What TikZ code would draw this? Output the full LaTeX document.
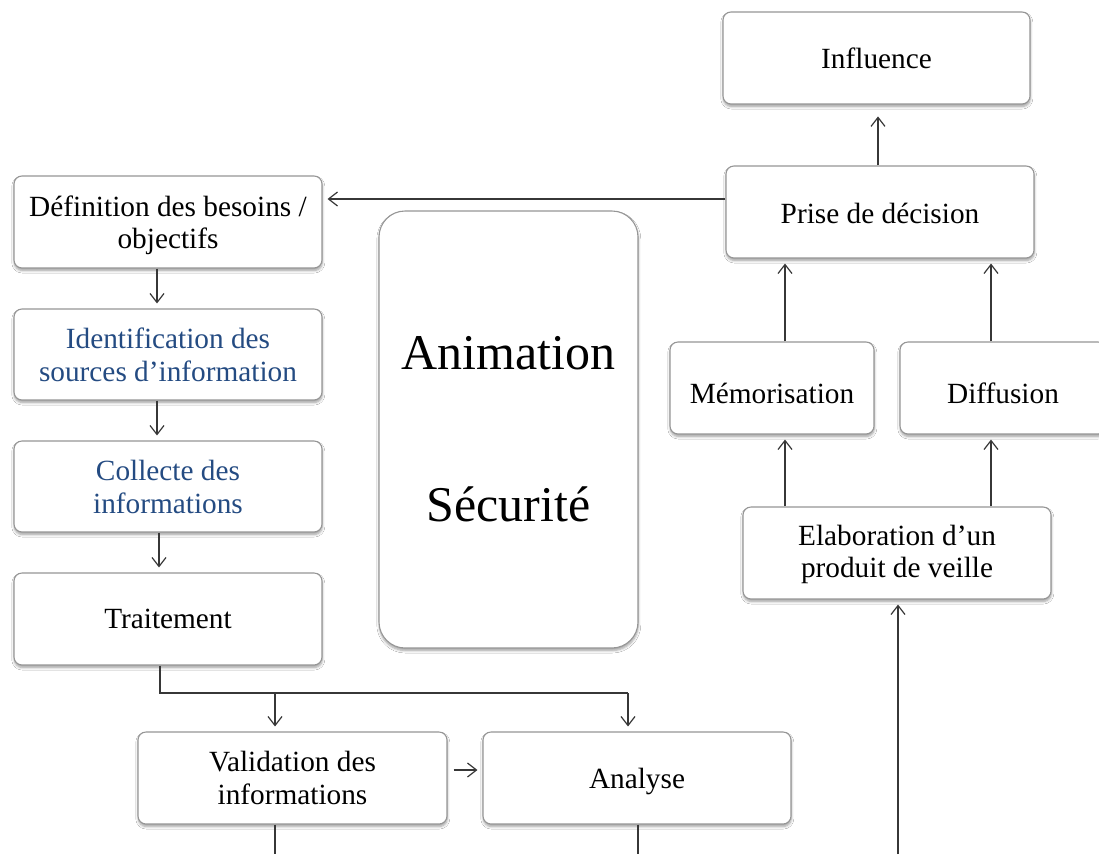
\documentclass[tikz,border=0pt]{standalone}
\usepackage{fontspec}
\setmainfont{Liberation Serif}
\usetikzlibrary{arrows.meta,calc,shadows.blur}
\definecolor{boxline}{RGB}{150,150,150}
\definecolor{wire}{RGB}{55,55,55}
\definecolor{steelblue}{RGB}{36,75,130}
% lower a label inside its box while keeping the box's centring
\newcommand{\lowered}[2]{\raisebox{#1}[\height][\depth]{#2}}
% two centred lines, lowered a little inside their box
\newcommand{\twolines}[3]{\lowered{#1}{\begin{tabular}{@{}c@{}}#2\\[-1pt]#3\end{tabular}}}
\begin{document}
\begin{tikzpicture}[x=1pt,y=-1pt,
  box/.style={draw=boxline, line width=1.1pt, fill=white, rounded corners=8pt,
    minimum width=308pt, minimum height=92pt, align=center, inner sep=2pt,
    font=\fontsize{29.3}{33}\selectfont,
    blur shadow={shadow xshift=0.3pt, shadow yshift=-2.5pt, shadow blur radius=2.5pt,
      shadow blur steps=6, shadow opacity=38}},
  bluetext/.style={text=steelblue},
  arr/.style={draw=wire, line width=1.2pt, -{Straight Barb[length=9pt,width=14pt,line width=1.2pt]}, shorten >=5pt},
  wireline/.style={draw=wire, line width=1.2pt}]
\useasboundingbox (0,0) rectangle (1099,854);
\fill[white] (0,0) rectangle (1099,854);

% left column: needs -> sources -> collection -> processing
\node[box] (defn) at (168,222) {\twolines{-4pt}{Définition des besoins /}{objectifs}};
\node[box, bluetext, minimum height=91pt] (ident) at (168,354.5) {Identification des\\sources d’information};
\node[box, bluetext, minimum height=91pt] (coll) at (168,486.5) {Collecte des\\informations};
\node[box] (trait) at (168,619) {Traitement};

% central panel
\node[box, minimum width=259pt, minimum height=437pt, rounded corners=26pt,
  font=\fontsize{50}{152}\selectfont] (anim) at (508.5,429.5) {Animation\\Sécurité};

% bottom row
\node[box, minimum width=309pt] (valid) at (292.5,778) {Validation des\\informations};
\node[box] (analyse) at (637,778) {\lowered{-3pt}{Analyse}};

% right column
\node[box, minimum width=307pt] (infl) at (876.5,58) {Influence};
\node[box] (prise) at (880,212) {\lowered{-1pt}{Prise de décision}};
\node[box, minimum width=204pt] (memo) at (772,388) {\lowered{-5pt}{Mémorisation}};
\node[box, minimum width=206pt] (diff) at (1003,388) {\lowered{-5pt}{Diffusion}};
\node[box] (elab) at (897,553) {\twolines{-2pt}{Elaboration d’un}{produit de veille}};

% guide coordinates for the connectors
\coordinate (pd) at ($(prise.west)+(0,-13)$);
\coordinate (cL) at (785,0);
\coordinate (cR) at (991,0);
\coordinate (bot) at (898,854);
\coordinate (tx) at (160,693);
\coordinate (vx) at (275,693);
\coordinate (ax) at (628,693);
\coordinate (vb) at (275,854);
\coordinate (ab) at (638,854);
\coordinate (dx) at (157,0);
\coordinate (cx) at (159,0);

% left column connectors
\draw[arr] (pd) -- (defn.east |- pd);
\draw[arr] (dx |- defn.south) -- (dx |- ident.north);
\draw[arr] (dx |- ident.south) -- (dx |- coll.north);
\draw[arr] (cx |- coll.south) -- (cx |- trait.north);

% split from processing to validation and analysis
\draw[wireline] (tx |- trait.south) -- (tx) -- (ax);
\draw[arr] (vx) -- (vx |- valid.north);
\draw[arr] (ax) -- (ax |- analyse.north);
\draw[arr, shorten <=6pt] ($(valid.east)+(0,-8)$) -- ($(analyse.west)+(0,-8)$);
\draw[wireline] (vb |- valid.south) -- (vb);
\draw[wireline] (ab |- analyse.south) -- (ab);

% right column connectors
\draw[arr] (bot) -- (bot |- elab.south);
\draw[arr] (cL |- elab.north) -- (cL |- memo.south);
\draw[arr] (cR |- elab.north) -- (cR |- diff.south);
\draw[arr] (cL |- memo.north) -- (cL |- prise.south);
\draw[arr] (cR |- diff.north) -- (cR |- prise.south);
\draw[arr] (prise.north -| infl.south) ++(1.5,0) -- ++(0,-54);
\end{tikzpicture}
\end{document}
